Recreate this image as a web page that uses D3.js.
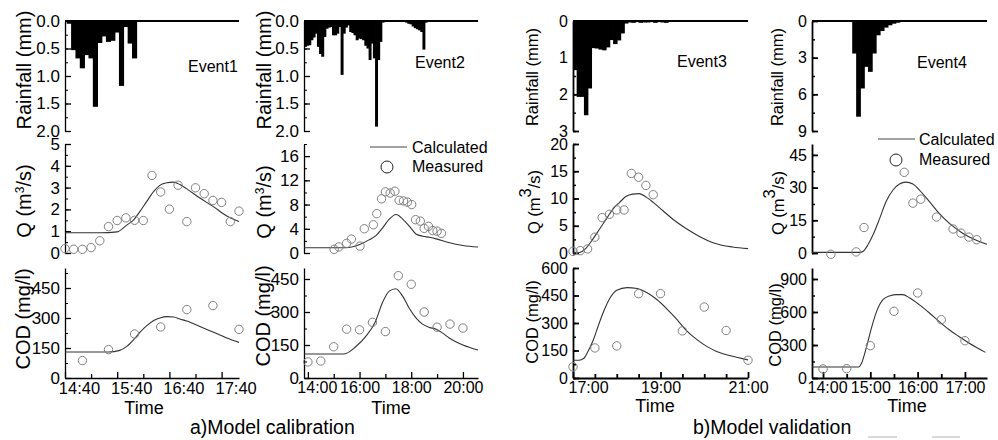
<!DOCTYPE html>
<html>
<head>
<meta charset="utf-8">
<script src="https://cdn.jsdelivr.net/npm/d3@7/dist/d3.min.js"></script>
<style>
	body { margin: 0; background: #fff; }
	svg { font-family: "Liberation Sans", Arial, sans-serif; }
	.axis path, .axis line { stroke: #000; }
	.axis text { fill: #000; }
</style>
</head>
<body>
<div id="chart"></div>
<script>

// event names and captions
var eventNames = ["Event1", "Event2", "Event3", "Event4"];
var captions = ["a)Model calibration", "b)Model validation"];

// time range of each event's x axis
var timeRangeE1 = ["14:40", "18:00"];
var timeRangeE2 = ["13:51", "20:35"];
var timeRangeE3 = ["17:00", "21:00"];
var timeRangeE4 = ["13:46", "17:28"];

// rainfall (mm), one bar per 5 minutes from the start time
var rainStart = ["14:42", "13:51", "17:00", "14:37"];
var rainE1 = [0.05, 0.53, 0.68, 0.86, 0.62, 0.68, 1.56, 0.40, 0.28, 0.38, 0.36, 0.21, 1.18, 0.11, 0.41, 0.68];
var rainE2 = [0.47, 0.45, 0.44, 0.35, 0.30, 0.23, 0.47, 0.60, 0.65, 0.29, 0.14, 0.12, 0.11, 0.26, 0.26, 0.23,
	0.11, 0.98, 0.23, 0.12, 0.08, 0.20, 0.22, 0.26, 0.35, 0.32, 0.33, 0.35, 0.45, 0.50, 0.71, 0.41, 0.68, 1.92,
	0.71, 0.38, 0.03, 0.01, 0, 0, 0, 0.01, 0, 0, 0, 0.01, 0, 0.03, 0.05, 0.06, 0.10, 0.13, 0.15, 0.17, 0.20, 0.52, 0.03];
var rainE3 = [1.34, 2.07, 2.07, 2.57, 1.84, 0.74, 0.75, 0.78, 0.80, 0.72, 0.52, 0.63, 0.53, 0.34, 0.07,
	0.04, 0.05, 0.03, 0.05, 0.04, 0.04, 0.03, 0.05, 0.03, 0.04, 0.05, 0.02];
var rainE4 = [2.66, 7.83, 5.52, 3.75, 4.16, 2.66, 1.17, 0.82, 0.54, 0.35, 0.22, 0.14, 0.08, 0.05, 0.03, 0.02];

// discharge Q (m3/s), measured
var qMeasTimeE1 = ["14:40", "14:50", "15:00", "15:10", "15:20", "15:30", "15:40", "15:50", "16:00", "16:10", "16:20",
	"16:30", "16:40", "16:50", "17:00", "17:10", "17:20", "17:30", "17:40", "17:50", "18:00"];
var qMeasE1 = [0.2, 0.17, 0.17, 0.25, 0.56, 1.21, 1.49, 1.61, 1.5, 1.49, 3.56, 2.8, 2.01, 3.11, 1.44, 2.99, 2.72, 2.41, 2.32, 1.44, 1.92];
var qMeasTimeE2 = ["15:01", "15:12", "15:30", "15:41", "16:01", "16:11", "16:32", "16:40", "16:51", "17:00", "17:11", "17:22",
	"17:32", "17:42", "17:51", "18:01", "18:10", "18:21", "18:30", "18:40", "18:50", "19:00", "19:10"];
var qMeasE2 = [0.6, 1.0, 1.6, 2.3, 1.14, 4.0, 4.66, 6.5, 8.95, 10.1, 9.9, 10.2, 8.7, 8.6, 8.4, 8.0, 5.5, 5.26, 4.07, 4.4, 3.7, 3.6, 3.25];
var qMeasTimeE3 = ["17:00", "17:10", "17:20", "17:30", "17:40", "17:50", "18:00", "18:10", "18:20", "18:30", "18:40", "18:50"];
var qMeasE3 = [0.3, 0.43, 0.75, 2.9, 6.5, 7.1, 7.9, 7.9, 14.6, 13.9, 12.4, 10.7];
var qMeasTimeE4 = ["14:10", "14:42", "14:52", "15:43", "15:54", "16:04", "16:24", "16:45", "16:55", "17:05", "17:15"];
var qMeasE4 = [-0.6, 0.5, 11.7, 37, 22.9, 24.7, 16.5, 11, 9.1, 7.3, 6.1];

// discharge Q (m3/s), calculated
var qCalcTimeE1 = ["14:40", "15:20", "15:40", "15:51", "15:59", "16:06", "16:14", "16:22", "16:29", "16:37", "16:45",
	"16:52", "17:00", "17:15", "17:30", "17:46", "18:00"];
var qCalcE1 = [0.93, 0.93, 0.97, 1.28, 1.52, 1.9, 2.37, 2.83, 3.1, 3.22, 3.25, 3.14, 2.94, 2.52, 2.14, 1.7, 1.44];
var qCalcTimeE2 = ["13:51", "15:28", "15:59", "16:22", "16:38", "16:54", "17:09", "17:25", "17:40", "17:56", "18:11",
	"18:27", "18:42", "18:58", "19:29", "20:00", "20:35"];
var qCalcE2 = [0.87, 0.87, 1.36, 2.17, 2.87, 4.2, 5.6, 6.35, 5.6, 4.4, 3.15, 2.77, 2.6, 2.33, 1.68, 1.25, 0.98];
var qCalcTimeE3 = ["17:00", "17:09", "17:18", "17:27", "17:37", "17:46", "17:55", "18:04", "18:13", "18:22", "18:31",
	"18:41", "18:50", "19:03", "19:17", "19:35", "19:54", "20:12", "20:39", "21:00"];
var qCalcE3 = [0, 0.1, 0.9, 2.5, 4.5, 6.3, 8.1, 9.3, 10.4, 10.8, 10.9, 10.2, 9.3, 7.8, 6.2, 4.5, 3.0, 1.9, 1.1, 0.8];
var qCalcTimeE4 = ["13:46", "14:47", "14:51", "14:57", "15:04", "15:12", "15:20", "15:29", "15:37", "15:45", "15:54",
	"16:02", "16:15", "16:27", "16:40", "16:57", "17:13", "17:28"];
var qCalcE4 = [0.3, 0.3, 0.8, 3.8, 8.8, 16, 23.6, 29, 31.7, 32.5, 31.7, 29, 23.6, 18.3, 13.7, 9.1, 6.1, 4.0];

// COD (mg/l), measured
var codMeasTimeE1 = ["15:00", "15:30", "16:00", "16:30", "17:00", "17:30", "18:00"];
var codMeasE1 = [87, 142, 220, 255, 342, 362, 243];
var codMeasTimeE2 = ["14:00", "14:30", "15:00", "15:30", "16:00", "16:30", "17:00", "17:30", "18:00", "18:30", "19:00", "19:30", "20:00"];
var codMeasE2 = [73, 77, 142, 222, 219, 253, 211, 465, 426, 300, 231, 245, 227];
var codMeasTimeE3 = ["17:00", "17:30", "18:00", "18:30", "19:00", "19:30", "20:00", "20:30", "21:00"];
var codMeasE3 = [61, 164, 175, 460, 460, 257, 387, 259, 97];
var codMeasTimeE4 = ["14:00", "14:30", "15:00", "15:30", "16:00", "16:30", "17:00"];
var codMeasE4 = [82, 85, 294, 606, 773, 530, 339];

// COD (mg/l), calculated
var codCalcTimeE1 = ["14:40", "15:30", "15:43", "15:51", "15:59", "16:06", "16:14", "16:22", "16:29", "16:37", "16:45",
	"16:52", "17:00", "17:15", "17:30", "17:46", "18:00"];
var codCalcE1 = [130, 130, 138, 158, 192, 228, 262, 288, 300, 307, 305, 295, 285, 258, 230, 200, 178];
var codCalcTimeE2 = ["13:51", "15:23", "15:51", "16:14", "16:37", "16:53", "17:09", "17:24", "17:40", "17:55", "18:11",
	"18:26", "18:42", "18:58", "19:13", "19:29", "20:00", "20:35"];
var codCalcE2 = [109, 109, 142, 188, 257, 342, 395, 406, 372, 318, 273, 245, 230, 222, 204, 181, 150, 127];
var codCalcTimeE3 = ["17:00", "17:08", "17:15", "17:21", "17:28", "17:35", "17:42", "17:51", "18:00", "18:14", "18:28",
	"18:41", "18:55", "19:09", "19:23", "19:36", "19:50", "20:04", "20:17", "20:36", "21:00"];
var codCalcE3 = [97, 97, 108, 149, 209, 289, 363, 438, 479, 493, 488, 466, 428, 376, 317, 257, 209, 171, 145, 121, 99];
var codCalcTimeE4 = ["13:46", "14:45", "14:49", "14:53", "14:57", "15:02", "15:08", "15:16", "15:25", "15:33", "15:41",
	"15:50", "16:02", "16:15", "16:27", "16:40", "16:52", "17:05", "17:26"];
var codCalcE4 = [100, 100, 136, 227, 333, 470, 606, 712, 748, 758, 758, 727, 667, 591, 515, 439, 379, 318, 233];

// axis maxima and tick values
var rainMax = [2, 2, 3, 9];
var rainTicks = [[0, 0.5, 1, 1.5, 2], [0, 0.5, 1, 1.5, 2], [0, 1, 2, 3], [0, 3, 6, 9]];
var rainMinor = [0.25, 0.25, 0.5, 1.5];
var qMax = [5, 18, 20, 50];
var qTicks = [[0, 1, 2, 3, 4, 5], [0, 4, 8, 12, 16], [0, 5, 10, 15, 20], [0, 15, 30, 45]];
var qMinor = [0.5, 2, 2.5, 7.5];
var codMax = [550, 500, 600, 1000];
var codTicks = [[0, 150, 300, 450], [0, 150, 300, 450], [0, 150, 300, 450, 600], [0, 300, 600, 900]];
var codMinor = [75, 75, 75, 150];

// time ticks: labelled ticks and the unlabelled ones in between
var timeTicksE1 = ["14:40", "15:40", "16:40", "17:40"];
var timeMinorE1 = ["15:10", "16:10", "17:10"];
var timeTicksE2 = ["14:00", "16:00", "18:00", "20:00"];
var timeMinorE2 = ["15:00", "17:00", "19:00"];
var timeTicksE3 = ["17:00", "19:00", "21:00"];
var timeMinorE3 = ["17:30", "18:00", "18:30", "19:30", "20:00", "20:30"];
var timeTicksE4 = ["14:00", "15:00", "16:00", "17:00"];
var timeMinorE4 = ["14:30", "15:30", "16:30"];

// grouping per event
var timeRanges = [timeRangeE1, timeRangeE2, timeRangeE3, timeRangeE4];
var rains = [rainE1, rainE2, rainE3, rainE4];
var qMeasT = [qMeasTimeE1, qMeasTimeE2, qMeasTimeE3, qMeasTimeE4];
var qMeas = [qMeasE1, qMeasE2, qMeasE3, qMeasE4];
var qCalcT = [qCalcTimeE1, qCalcTimeE2, qCalcTimeE3, qCalcTimeE4];
var qCalc = [qCalcE1, qCalcE2, qCalcE3, qCalcE4];
var codMeasT = [codMeasTimeE1, codMeasTimeE2, codMeasTimeE3, codMeasTimeE4];
var codMeas = [codMeasE1, codMeasE2, codMeasE3, codMeasE4];
var codCalcT = [codCalcTimeE1, codCalcTimeE2, codCalcTimeE3, codCalcTimeE4];
var codCalc = [codCalcE1, codCalcE2, codCalcE3, codCalcE4];
var timeTicks = [timeTicksE1, timeTicksE2, timeTicksE3, timeTicksE4];
var timeMinor = [timeMinorE1, timeMinorE2, timeMinorE3, timeMinorE4];

// "HH:MM" to minutes and back
function toMin(s) {
	var p = s.split(":");
	return +p[0] * 60 + +p[1];
}
function toHM(m) {
	var h = Math.floor(m / 60), mm = m % 60;
	return (h < 10 ? "0" : "") + h + ":" + (mm < 10 ? "0" : "") + mm;
}

// layout of the four columns (pixels)
var cols = [
	{x0: 65, x1: 239, tick: 17, xtick: 16.5, title: 20, big3: false, stroke: 1.3, tx: [31, 31, 30], ty: [70, 201, 319], timeX: 144, labelDx: [14, 14, 14, 14]},
	{x0: 304, x1: 478, tick: 17, xtick: 16, title: 20, big3: false, stroke: 1.3, tx: [271, 271, 270], ty: [70, 202, 316], timeX: 391, labelDx: [9, 0, 0, 0]},
	{x0: 573, x1: 748, tick: 16, xtick: 16, title: 16.5, big3: true, stroke: 1.8, tx: [538, 540, 538], ty: [77, 202, 322], timeX: 655, labelDx: [15, 0, 0]},
	{x0: 812, x1: 987, tick: 16, xtick: 16, title: 16.5, big3: true, stroke: 1.8, tx: [783, 784, 781], ty: [77, 203, 325], timeX: 907, labelDx: [4, 0, 0, 0]}
];
var rainY = [21, 131], qY = [253, 144], codY = [378, 268];
var eventPos = [[188, 72], [415, 68], [677, 67], [917, 68]];

var svg = d3.select("#chart")
	.append("svg")
	.attr("width", 998)
	.attr("height", 440);

// minor tick values between 0 and max
function minorValues(max, step) {
	var v = [];
	for (var k = 0; k * step <= max + 1e-9; k++) v.push(+(k * step).toFixed(4));
	return v;
}

// left axis with inward ticks
function leftAxis(g, scale, ticks, max, step, fmt, c) {
	g.append("g")
		.attr("class", "axis")
		.attr("transform", "translate(" + c.x0 + ",0)")
		.call(d3.axisLeft(scale).tickValues(minorValues(max, step)).tickSize(-3).tickSizeOuter(0).tickFormat(""))
		.call(function(a) { a.selectAll("line").attr("stroke-width", c.stroke * 0.8); a.select("path").attr("stroke-width", c.stroke); });
	g.append("g")
		.attr("class", "axis")
		.attr("transform", "translate(" + c.x0 + ",0)")
		.call(d3.axisLeft(scale).tickValues(ticks).tickSize(-6).tickSizeOuter(0).tickPadding(5).tickFormat(fmt))
		.call(function(a) {
			a.select("path").remove();
			a.selectAll("line").attr("stroke-width", c.stroke);
			a.selectAll("text").style("font-size", c.tick + "px").attr("font-family", null);
		});
}

// rotated y axis title
function yTitle(x, y, c, parts) {
	var t = svg.append("text")
		.attr("transform", "translate(" + x + "," + y + ") rotate(-90)")
		.attr("text-anchor", "middle")
		.style("font-size", c.title + "px");
	parts.forEach(function(p) {
		var s = t.append("tspan").text(p.text);
		if (p.sup) {
			s.attr("baseline-shift", "super");
			if (!c.big3) s.style("font-size", (c.title * 0.6) + "px");
		}
	});
}

var curve = d3.line().curve(d3.curveMonotoneX);

for (var i = 0; i < 4; i++) {
	var c = cols[i];
	var x = d3.scaleLinear()
		.domain([toMin(timeRanges[i][0]), toMin(timeRanges[i][1])])
		.range([c.x0, c.x1]);

	// --- rainfall panel ---
	var yR = d3.scaleLinear().domain([0, rainMax[i]]).range(rainY);
	var t0 = toMin(rainStart[i]);
	var bw = x(t0 + 5) - x(t0);
	svg.append("g")
		.selectAll("rect")
		.data(rains[i])
		.enter()
		.append("rect")
		.attr("x", function(d, j) { return x(t0 + j * 5); })
		.attr("y", rainY[0])
		.attr("width", bw + 0.8)
		.attr("height", function(d) { return yR(d) - rainY[0]; })
		.attr("fill", "#000");
	svg.append("line")
		.attr("x1", c.x0).attr("x2", c.x1)
		.attr("y1", rainY[0]).attr("y2", rainY[0])
		.attr("stroke", "#000")
		.attr("stroke-width", 2);
	leftAxis(svg, yR, rainTicks[i], rainMax[i], rainMinor[i],
		i < 2 ? d3.format(".1f") : d3.format("d"), c);
	yTitle(c.tx[0], c.ty[0], c, [{text: "Rainfall (mm)"}]);

	svg.append("text")
		.attr("x", eventPos[i][0])
		.attr("y", eventPos[i][1])
		.style("font-size", "16px")
		.text(eventNames[i]);

	// --- discharge panel ---
	var yQ = d3.scaleLinear().domain([0, qMax[i]]).range(qY);
	leftAxis(svg, yQ, qTicks[i], qMax[i], qMinor[i], d3.format("d"), c);
	yTitle(c.tx[1], c.ty[1], c, [{text: "Q (m"}, {text: "3", sup: true}, {text: "/s)"}]);

	var qc = qCalcT[i].map(function(t, j) { return [x(toMin(t)), yQ(qCalc[i][j])]; });
	svg.append("path")
		.attr("d", curve(qc))
		.attr("fill", "none")
		.attr("stroke", "#333")
		.attr("stroke-width", 1.1);
	svg.append("g")
		.selectAll("circle")
		.data(qMeas[i])
		.enter()
		.append("circle")
		.attr("cx", function(d, j) { return x(toMin(qMeasT[i][j])); })
		.attr("cy", function(d) { return yQ(d); })
		.attr("r", 4.2)
		.attr("fill", "none")
		.attr("stroke", "#808080")
		.attr("stroke-width", 1);

	// --- COD panel ---
	var yC = d3.scaleLinear().domain([0, codMax[i]]).range(codY);
	leftAxis(svg, yC, codTicks[i], codMax[i], codMinor[i], d3.format("d"), c);
	yTitle(c.tx[2], c.ty[2], c, [{text: "COD (mg/l)"}]);

	// time axis with inward ticks
	var minorT = timeMinor[i].map(toMin);
	var majorT = timeTicks[i].map(toMin);
	svg.append("g")
		.attr("class", "axis")
		.attr("transform", "translate(0," + codY[0] + ")")
		.call(d3.axisBottom(x).tickValues(minorT).tickSize(-4).tickSizeOuter(0).tickFormat(""))
		.call(function(a) { a.selectAll("line").attr("stroke-width", c.stroke); a.select("path").attr("stroke-width", c.stroke); });
	var dx = c.labelDx;
	svg.append("g")
		.attr("class", "axis")
		.attr("transform", "translate(0," + codY[0] + ")")
		.call(d3.axisBottom(x).tickValues(majorT).tickSize(-6).tickPadding(4).tickFormat(toHM))
		.call(function(a) {
			a.select("path").remove();
			a.selectAll("line").attr("stroke-width", c.stroke);
			a.selectAll("text")
				.style("font-size", c.xtick + "px")
				.attr("font-family", null)
				.attr("dx", function(d, j) { return dx[j] || 0; });
		});
	svg.append("text")
		.attr("x", c.timeX)
		.attr("y", i < 2 ? 414 : 412)
		.attr("text-anchor", "middle")
		.style("font-size", "18px")
		.text("Time");

	var cc = codCalcT[i].map(function(t, j) { return [x(toMin(t)), yC(codCalc[i][j])]; });
	svg.append("path")
		.attr("d", curve(cc))
		.attr("fill", "none")
		.attr("stroke", "#333")
		.attr("stroke-width", 1.1);
	svg.append("g")
		.selectAll("circle")
		.data(codMeas[i])
		.enter()
		.append("circle")
		.attr("cx", function(d, j) { return x(toMin(codMeasT[i][j])); })
		.attr("cy", function(d) { return yC(d); })
		.attr("r", 4.2)
		.attr("fill", "none")
		.attr("stroke", "#808080")
		.attr("stroke-width", 1);
}

// legends (event 2 and event 4)
var legends = [{lx: [370, 407], ly: 147, cx: 387, cy: 167, tx: 412, t1: 153, t2: 172},
	{lx: [878, 915], ly: 139, cx: 896, cy: 160, tx: 919, t1: 145, t2: 165}];
legends.forEach(function(l) {
	svg.append("line")
		.attr("x1", l.lx[0]).attr("x2", l.lx[1])
		.attr("y1", l.ly).attr("y2", l.ly)
		.attr("stroke", "#444");
	svg.append("circle")
		.attr("cx", l.cx).attr("cy", l.cy).attr("r", 6)
		.attr("fill", "none").attr("stroke", "#222");
	svg.append("text").attr("x", l.tx).attr("y", l.t1).style("font-size", "16px").text("Calculated");
	svg.append("text").attr("x", l.tx).attr("y", l.t2).style("font-size", "16px").text("Measured");
});

// captions
svg.append("text").attr("x", 190).attr("y", 434).style("font-size", "19.5px").text(captions[0]);
svg.append("text").attr("x", 693).attr("y", 434).style("font-size", "19.5px").text(captions[1]);

// faint marks at the bottom right of the scan
[[868, 897], [932, 960]].forEach(function(s) {
	svg.append("line").attr("x1", s[0]).attr("x2", s[1]).attr("y1", 437).attr("y2", 437)
		.attr("stroke", "#ccc").attr("stroke-width", 1.5);
});

</script>
</body>
</html>
